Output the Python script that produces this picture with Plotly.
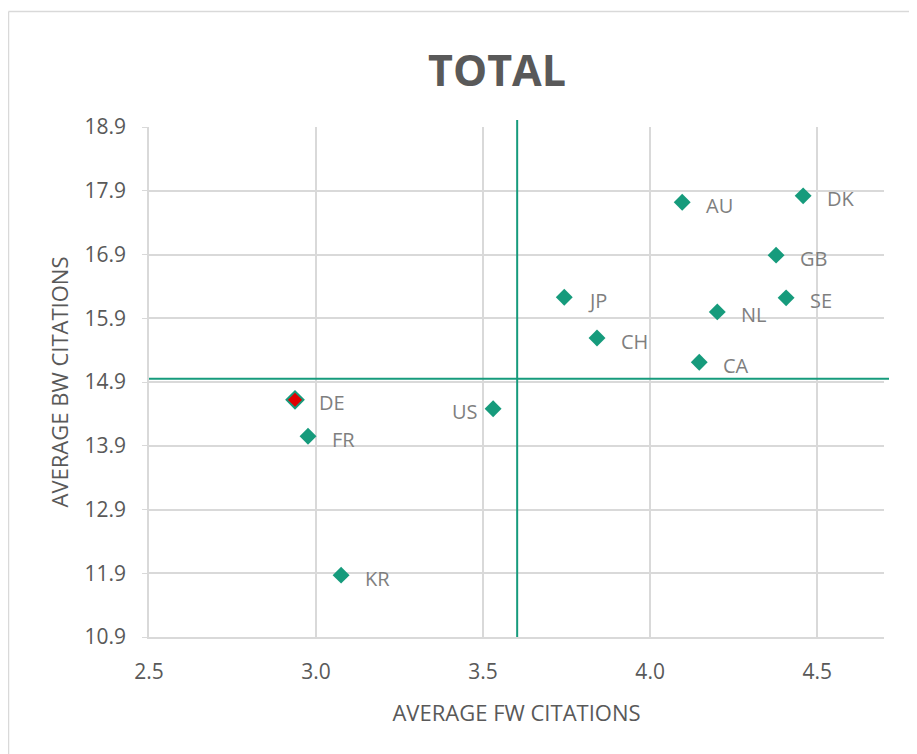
import plotly.graph_objects as go

countries = ["DK", "AU", "GB", "SE", "JP", "NL", "CH", "CA", "DE", "US", "FR", "KR"]
fw_citations = [4.458, 4.096, 4.377, 4.407, 3.743, 4.201, 3.841, 4.147, 2.937, 3.530, 2.976, 3.075]
bw_citations = [17.82, 17.72, 16.89, 16.22, 16.23, 16.00, 15.59, 15.21, 14.62, 14.48, 14.05, 11.87]
highlight = "DE"
avg_fw = 3.602
avg_bw = 14.95

x_ticks = [2.5, 3.0, 3.5, 4.0, 4.5]
y_ticks = [10.9, 11.9, 12.9, 13.9, 14.9, 15.9, 16.9, 17.9, 18.9]

TEAL = "#169b7c"
GREY_TXT = "#595959"
LABEL_TXT = "#7f7f7f"
GRID = "#d9d9d9"
FONT = "Open Sans"

# page body has an 8px offset; reference pixel coords are shifted accordingly
OFF = 8
W, H = 917, 754
ML, MT = 149 - OFF, 127 - OFF
pw, ph = 884 - 149, 637 - 127
MR = W - ML - pw
MB = H - MT - ph

def px_x(p):
    return (p - OFF - ML) / pw

def px_y(p):
    return (MT + ph - (p - OFF)) / ph

fills = ["#e00000" if c == highlight else TEAL for c in countries]

fig = go.Figure()
fig.add_trace(go.Scatter(
    x=fw_citations, y=bw_citations, mode="markers",
    marker=dict(symbol="diamond", size=13, color=fills,
                line=dict(color=TEAL, width=[2 if c == highlight else 0 for c in countries])),
    hoverinfo="text", text=countries, showlegend=False,
))

annotations = []
for c, xv, yv in zip(countries, fw_citations, bw_citations):
    left = c == "US"
    annotations.append(dict(
        x=xv, y=yv, xref="x", yref="y", text=c, showarrow=False,
        xanchor="right" if left else "left",
        xshift=-13 if left else 22, yshift=-3,
        font=dict(family=FONT, size=20, color=LABEL_TXT),
    ))

annotations.append(dict(
    x=px_x(497), y=px_y(70), xref="paper", yref="paper",
    text="<b>TOTAL</b>", showarrow=False, xanchor="center", yanchor="middle",
    font=dict(family=FONT, size=43, color=GREY_TXT),
))

shapes = [
    dict(type="line", xref="x", yref="paper", x0=avg_fw, x1=avg_fw,
         y0=0, y1=px_y(120), line=dict(color=TEAL, width=2)),
    dict(type="line", xref="paper", yref="y", x0=0, x1=px_x(889),
         y0=avg_bw, y1=avg_bw, line=dict(color=TEAL, width=2)),
    dict(type="line", xref="paper", yref="paper",
         x0=px_x(8.5), x1=px_x(8.5), y0=-0.5, y1=px_y(11.5),
         line=dict(color=GRID, width=1.5)),
    dict(type="line", xref="paper", yref="paper",
         x0=px_x(8.5), x1=1.2, y0=px_y(11.5), y1=px_y(11.5),
         line=dict(color=GRID, width=1.5)),
]

fig.update_layout(
    width=W, height=H,
    margin=dict(l=ML, r=MR, t=MT, b=MB),
    paper_bgcolor="white", plot_bgcolor="white",
    font=dict(family=FONT, color=GREY_TXT),
    annotations=annotations, shapes=shapes,
    xaxis=dict(
        range=[2.5, 4.7], tickvals=x_ticks, ticktext=[f"{v:.1f}" for v in x_ticks],
        showgrid=True, gridcolor=GRID, gridwidth=1.5, zeroline=False,
        showline=True, linecolor=GRID, linewidth=2,
        ticks="", ticklabelstandoff=15,
        tickfont=dict(family=FONT, size=21, color=GREY_TXT),
        title=dict(text="AVERAGE FW CITATIONS", standoff=21,
                   font=dict(family=FONT, size=22, color=GREY_TXT)),
    ),
    yaxis=dict(
        range=[10.9, 18.9], tickvals=y_ticks, ticktext=[f"{v:.1f}" for v in y_ticks],
        showgrid=True, gridcolor=GRID, gridwidth=1.5, zeroline=False,
        showline=True, linecolor=GRID, linewidth=1.5,
        ticks="outside", ticklen=5, tickcolor=GRID, ticklabelstandoff=12,
        tickfont=dict(family=FONT, size=21, color=GREY_TXT),
        title=dict(text="AVERAGE BW CITATIONS", standoff=10,
                   font=dict(family=FONT, size=22, color=GREY_TXT)),
    ),
)

fig.write_html("out.html")
